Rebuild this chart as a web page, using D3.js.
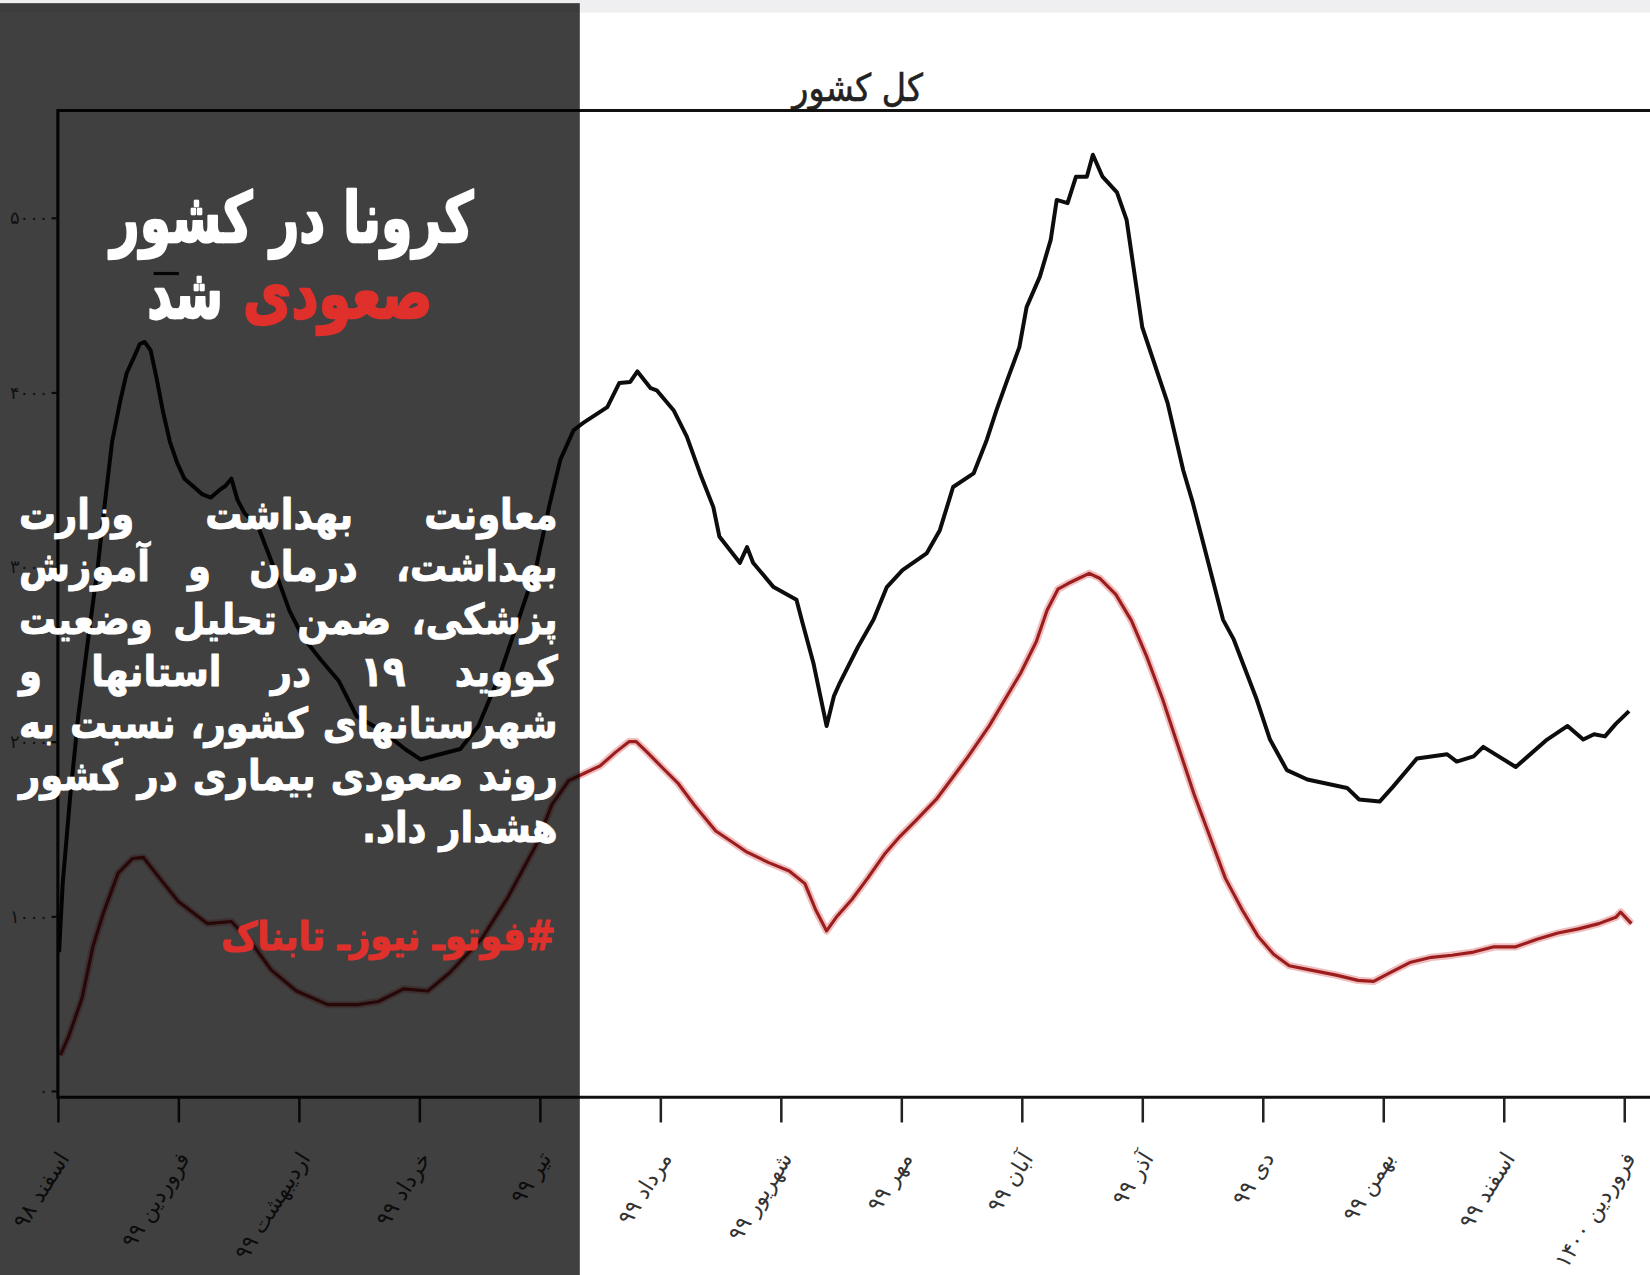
<!DOCTYPE html>
<html>
<head>
<meta charset="utf-8">
<script src="https://cdn.jsdelivr.net/npm/d3@7"></script>
<style>
  body { margin: 0; background: #fff; }
  svg { display: block; }
</style>
</head>
<body>
<div id="chart"></div>
<script>
// x tick labels (one per Persian month)
var months = ["اسفند ۹۸", "فروردین ۹۹", "اردیبهشت ۹۹", "خرداد ۹۹", "تیر ۹۹", "مرداد ۹۹",
  "شهریور ۹۹", "مهر ۹۹", "آبان ۹۹", "آذر ۹۹", "دی ۹۹", "بهمن ۹۹", "اسفند ۹۹", "فروردین ۱۴۰۰"]

var yTicks = [0, 1000, 2000, 3000, 4000, 5000]
var yTickLabels = ["۰", "۱۰۰۰", "۲۰۰۰", "۳۰۰۰", "۴۰۰۰", "۵۰۰۰"]

// black series: [month position, value]
var blackSeries = [
  [0.01, 795], [0.04, 1187], [0.10, 1669], [0.17, 2151], [0.26, 2633], [0.33, 2994],
  [0.38, 3307], [0.45, 3717], [0.52, 3958], [0.57, 4108], [0.63, 4199], [0.68, 4277],
  [0.72, 4289], [0.77, 4241], [0.82, 4078], [0.87, 3898], [0.93, 3717], [0.99, 3596],
  [1.05, 3506], [1.12, 3464], [1.20, 3416], [1.27, 3398], [1.34, 3440], [1.39, 3464],
  [1.44, 3506], [1.49, 3386], [1.55, 3307], [1.66, 3235], [1.81, 2964], [1.92, 2753],
  [2.03, 2602], [2.18, 2470], [2.33, 2349], [2.48, 2145], [2.62, 2090], [2.75, 2030],
  [2.88, 1958], [3.01, 1898], [3.14, 1922], [3.34, 1958], [3.49, 2090], [3.67, 2386],
  [3.82, 2693], [3.97, 3000], [4.08, 3355], [4.17, 3614], [4.28, 3783], [4.36, 3825],
  [4.56, 3916], [4.66, 4054], [4.75, 4060], [4.81, 4120], [4.92, 4024], [4.97, 4012],
  [5.11, 3898], [5.22, 3747], [5.33, 3536], [5.44, 3343], [5.49, 3175], [5.66, 3024],
  [5.72, 3114], [5.77, 3024], [5.94, 2885], [6.13, 2813], [6.18, 2681], [6.27, 2452],
  [6.38, 2090], [6.44, 2259], [6.49, 2337], [6.64, 2542], [6.77, 2699], [6.88, 2885],
  [7.01, 2982], [7.21, 3078], [7.32, 3211], [7.43, 3458], [7.60, 3536], [7.71, 3729],
  [7.79, 3898], [7.88, 4072], [7.98, 4259], [8.04, 4488], [8.15, 4663], [8.24, 4873],
  [8.29, 5102], [8.38, 5084], [8.45, 5235], [8.54, 5235], [8.59, 5361], [8.67, 5235],
  [8.79, 5145], [8.87, 4988], [9.00, 4373], [9.21, 3940], [9.34, 3554], [9.42, 3367],
  [9.67, 2699], [9.76, 2584], [9.95, 2241], [10.06, 2012], [10.20, 1837], [10.37, 1783],
  [10.70, 1735], [10.80, 1669], [10.97, 1657], [11.08, 1741], [11.28, 1904], [11.53, 1928],
  [11.61, 1886], [11.75, 1916], [11.83, 1970], [12.10, 1855], [12.36, 2012], [12.53, 2090],
  [12.66, 2012], [12.75, 2042], [12.84, 2030], [12.93, 2102], [13.04, 2175]
]

// red series: [month position, value]
var redSeries = [
  [0.02, 205], [0.09, 313], [0.20, 530], [0.29, 825], [0.38, 1024], [0.50, 1247],
  [0.62, 1331], [0.71, 1337], [0.86, 1205], [1.00, 1084], [1.24, 958], [1.44, 970],
  [1.60, 855], [1.77, 693], [1.98, 572], [2.24, 494], [2.49, 494], [2.66, 512],
  [2.87, 584], [3.07, 572], [3.25, 675], [3.52, 873], [3.73, 1102], [3.97, 1410],
  [4.10, 1639], [4.24, 1777], [4.37, 1819], [4.50, 1861], [4.63, 1940], [4.74, 2000],
  [4.80, 2000], [4.89, 1940], [5.02, 1849], [5.15, 1759], [5.28, 1639], [5.46, 1488],
  [5.59, 1428], [5.72, 1367], [5.90, 1307], [6.07, 1259], [6.20, 1187], [6.29, 1036],
  [6.38, 916], [6.46, 994], [6.59, 1096], [6.72, 1217], [6.86, 1355], [6.99, 1458],
  [7.12, 1548], [7.29, 1669], [7.42, 1789], [7.55, 1910], [7.73, 2090], [7.86, 2241],
  [7.99, 2392], [8.12, 2572], [8.21, 2753], [8.30, 2873], [8.38, 2904], [8.47, 2934],
  [8.56, 2964], [8.65, 2934], [8.78, 2843], [8.91, 2693], [9.04, 2482], [9.17, 2241],
  [9.30, 1970], [9.43, 1699], [9.56, 1458], [9.69, 1217], [9.83, 1036], [9.96, 886],
  [10.09, 783], [10.22, 717], [10.39, 693], [10.61, 663], [10.79, 633], [10.92, 627],
  [11.05, 675], [11.22, 735], [11.40, 765], [11.57, 777], [11.75, 795], [11.92, 825],
  [12.10, 825], [12.27, 867], [12.45, 904], [12.62, 928], [12.79, 958], [12.93, 994],
  [12.97, 1024], [13.06, 958]
]

var chartTitle = "کل کشور"
var headline1 = "کرونا در کشور"
var headlineRed = "صعودی"
var headlineWhite = "شد"
var paragraph = ["معاونت بهداشت وزارت", "بهداشت، درمان و آموزش", "پزشکی، ضمن تحلیل وضعیت",
  "کووید ۱۹ در استانها و", "شهرستانهای کشور، نسبت به", "روند صعودی بیماری در کشور", "هشدار داد."]
var hashtag = "#فوتوـ نیوزـ تابناک"

var RLM = "\u200F"   // keeps trailing/leading punctuation on the rtl side
var W = 1568, H = 1212
var plot = {left: 55, right: 1568, top: 105, bottom: 1043}

var svg = d3.select("#chart")
  .append("svg")
  .attr("width", 1650)
  .attr("height", 1275)
  .attr("viewBox", "0 0 " + W + " " + H)
  .attr("preserveAspectRatio", "none")

svg.append("rect").attr("width", W).attr("height", H).attr("fill", "#fff")
svg.append("rect").attr("width", W).attr("height", 12).attr("fill", "#efeff1")

var x = d3.scaleLinear().domain([0, 13]).range([55, 1543.5])
var y = d3.scaleLinear().domain([0, 5000]).range([1037, 207])

var chart = svg.append("g")

// title
chart.append("text")
  .attr("x", 815).attr("y", 96)
  .attr("text-anchor", "middle")
  .attr("font-family", "DejaVu Sans Condensed, DejaVu Sans")
  .attr("font-size", 36)
  .attr("fill", "#222").attr("stroke", "#222").attr("stroke-width", 0.6)
  .attr("textLength", 124).attr("lengthAdjust", "spacingAndGlyphs")
  .text(chartTitle)

// series
var line = d3.line().x(d => x(d[0])).y(d => y(d[1]))

chart.append("path").datum(redSeries)
  .attr("fill", "none").attr("stroke", "#eaa2a2").attr("stroke-width", 7)
  .attr("stroke-opacity", 0.7).attr("stroke-linejoin", "round").attr("d", line)
chart.append("path").datum(redSeries)
  .attr("fill", "none").attr("stroke", "#9b1d1d").attr("stroke-width", 3)
  .attr("stroke-linejoin", "round").attr("d", line)

chart.append("path").datum(blackSeries)
  .attr("fill", "none").attr("stroke", "#0d0d0d").attr("stroke-width", 3.8)
  .attr("stroke-linejoin", "round").attr("d", line)

// frame
chart.append("path")
  .attr("d", "M" + plot.right + "," + plot.top + "H" + plot.left + "V" + plot.bottom + "H" + plot.right)
  .attr("fill", "none").attr("stroke", "#111").attr("stroke-width", 3)

// x axis
var xAxis = d3.axisBottom(x).tickValues(d3.range(months.length)).tickSize(24).tickFormat((d, i) => months[i])
var gx = chart.append("g").attr("transform", "translate(0," + plot.bottom + ")").call(xAxis)
gx.select(".domain").remove()
gx.selectAll(".tick line").attr("stroke", "#222").attr("stroke-width", 2.4)
gx.selectAll(".tick text")
  .attr("x", 0).attr("y", 0).attr("dy", null)
  .attr("text-anchor", "end")
  .attr("transform", "translate(11,58) rotate(-58)")
  .attr("font-family", "DejaVu Sans")
  .attr("font-size", 21)
  .attr("fill", "#333")

// y axis
var yAxis = d3.axisLeft(y).tickValues(yTicks).tickSize(6).tickFormat((d, i) => yTickLabels[i])
var gy = chart.append("g").attr("transform", "translate(" + plot.left + ",0)").call(yAxis)
gy.select(".domain").remove()
gy.selectAll(".tick line").attr("stroke", "#222").attr("stroke-width", 2)
gy.selectAll(".tick text")
  .attr("font-family", "DejaVu Sans").attr("font-size", 17).attr("fill", "#444")

// small legend samples (mostly hidden under the panel)
chart.append("line").attr("x1", 198).attr("x2", 226).attr("y1", 222).attr("y2", 222)
  .attr("stroke", "#111").attr("stroke-width", 3)
chart.append("line").attr("x1", 146).attr("x2", 170).attr("y1", 260).attr("y2", 260)
  .attr("stroke", "#111").attr("stroke-width", 3)

// dark text panel
svg.append("rect").attr("x", 0).attr("y", 3).attr("width", 551).attr("height", H - 3)
  .attr("fill", "#000").attr("fill-opacity", 0.75)

var panel = svg.append("g")
  .attr("font-family", "DejaVu Sans")
  .attr("font-weight", "bold")
  .attr("stroke-linejoin", "round")

panel.append("text")
  .attr("x", 450).attr("y", 230).attr("text-anchor", "end")
  .attr("font-size", 66).attr("fill", "#fff").attr("stroke", "#fff").attr("stroke-width", 2.2)
  .attr("textLength", 345).attr("lengthAdjust", "spacingAndGlyphs")
  .text(headline1)
panel.append("text")
  .attr("x", 411).attr("y", 302).attr("text-anchor", "end")
  .attr("font-size", 66).attr("fill", "#e0302b").attr("stroke", "#e0302b").attr("stroke-width", 2.2)
  .attr("textLength", 180).attr("lengthAdjust", "spacingAndGlyphs")
  .text(headlineRed)
panel.append("text")
  .attr("x", 212).attr("y", 302).attr("text-anchor", "end")
  .attr("font-size", 66).attr("fill", "#fff").attr("stroke", "#fff").attr("stroke-width", 2.2)
  .attr("textLength", 72).attr("lengthAdjust", "spacingAndGlyphs")
  .text(headlineWhite)

// justified paragraph, words placed right to left
var paraRight = 530, paraLeft = 18, paraTop = 503, paraStep = 49.6, paraSize = 40
var rows = paragraph.map(function(s, r) {
  var words = s.split(" ")
  var items = words.map(function(w) {
    var t = panel.append("text").attr("font-size", paraSize)
      .attr("fill", "#fff").attr("stroke", "#fff").attr("stroke-width", 0.9)
      .attr("text-anchor", "end").text(w + RLM)
    return {node: t, w: t.node().getComputedTextLength()}
  })
  return {items: items, sum: d3.sum(items, d => d.w), y: paraTop + r * paraStep}
})
var avail = paraRight - paraLeft
var k = d3.min(rows.slice(0, -1), r => (avail - (r.items.length - 1) * 14) / r.sum)
k = Math.min(1, k)
rows.forEach(function(r, i) {
  var last = i === rows.length - 1
  var gap = last ? 12 : (avail - k * r.sum) / (r.items.length - 1)
  var cur = paraRight
  r.items.forEach(function(it) {
    it.node.attr("transform", "translate(" + cur + "," + r.y + ") scale(" + k + ",1)")
    cur -= k * it.w + gap
  })
})

panel.append("text")
  .attr("x", 528).attr("y", 903).attr("text-anchor", "end")
  .attr("font-size", 38).attr("fill", "#e0302b").attr("stroke", "#e0302b").attr("stroke-width", 1)
  .attr("textLength", 318).attr("lengthAdjust", "spacingAndGlyphs")
  .text(RLM + hashtag)
</script>
</body>
</html>
